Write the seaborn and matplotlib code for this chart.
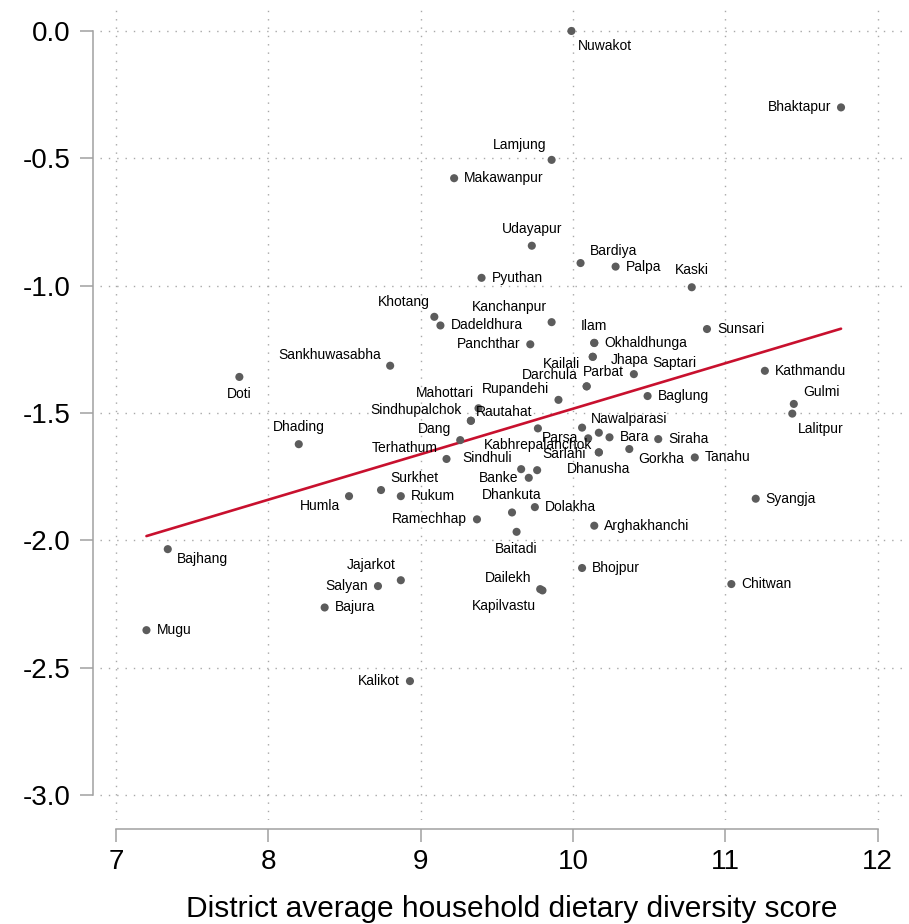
import numpy as np
import pandas as pd
import seaborn as sns
import matplotlib.pyplot as plt

sns.set_theme(style="white")
plt.rcParams['font.family'] = ['Liberation Sans', 'DejaVu Sans']
plt.rcParams['axes.unicode_minus'] = False

# district names ("" = point drawn without a label)
districts = [
    "Nuwakot", "Bhaktapur", "Lamjung", "Makawanpur", "Udayapur", "Bardiya",
    "Palpa", "Kaski", "Pyuthan", "Khotang", "Dadeldhura", "Kanchanpur",
    "Ilam", "Okhaldhunga", "Sunsari", "Panchthar", "Sankhuwasabha", "Kailali",
    "Jhapa", "Saptari", "Darchula", "Parbat", "Rupandehi", "Baglung",
    "Kathmandu", "Gulmi", "Lalitpur", "Doti", "Dhading", "Mahottari",
    "Rautahat", "Sindhupalchok", "Dang", "Terhathum", "Sindhuli",
    "Kabhrepalanchok", "Nawalparasi", "Parsa", "Bara", "", "Sarlahi",
    "Dhanusha", "Siraha", "Gorkha", "Tanahu", "Banke", "", "Surkhet",
    "Rukum", "Humla", "Syangja", "Dhankuta", "Dolakha", "Ramechhap",
    "Arghakhanchi", "Baitadi", "Bajhang", "Mugu", "Jajarkot", "Salyan",
    "Bajura", "Kalikot", "Dailekh", "Kapilvastu", "Bhojpur", "Chitwan",
]
dds_score = [
    9.99, 11.76, 9.86, 9.22, 9.73, 10.05,
    10.28, 10.78, 9.40, 9.09, 9.13, 9.86,
    10.14, 10.14, 10.88, 9.72, 8.80, 10.13,
    10.13, 10.40, 10.09, 10.09, 9.905, 10.49,
    11.26, 11.45, 11.44, 7.81, 8.20, 9.38,
    9.33, 9.33, 9.26, 9.17, 9.66,
    9.77, 10.06, 10.10, 10.24, 10.17, 10.17,
    10.17, 10.56, 10.37, 10.80, 9.71, 9.765, 8.74,
    8.87, 8.53, 11.20, 9.60, 9.75, 9.37,
    10.14, 9.63, 7.34, 7.20, 8.87, 8.72,
    8.37, 8.93, 9.785, 9.80, 10.06, 11.04,
]
outcome = [
    0.00, -0.30, -0.506, -0.578, -0.843, -0.911,
    -0.925, -1.006, -0.969, -1.122, -1.156, -1.143,
    -1.224, -1.225, -1.170, -1.230, -1.314, -1.279,
    -1.279, -1.347, -1.395, -1.395, -1.448, -1.433,
    -1.334, -1.464, -1.502, -1.358, -1.622, -1.481,
    -1.530, -1.530, -1.606, -1.680, -1.720,
    -1.560, -1.557, -1.599, -1.595, -1.577, -1.654,
    -1.654, -1.602, -1.641, -1.674, -1.754, -1.724, -1.802,
    -1.826, -1.826, -1.836, -1.890, -1.869, -1.917,
    -1.942, -1.966, -2.034, -2.352, -2.156, -2.179,
    -2.263, -2.552, -2.191, -2.196, -2.108, -2.171,
]

df = pd.DataFrame({"district": districts, "dds": dds_score, "y": outcome})

# label placement, clock style: (dx px, dy px downward, ha)
clock = {
    "3": (10, 0, "left"), "9": (-10, 0, "right"),
    "12": (0, -17, "center"), "6": (0, 17, "center"),
    "1": (9, -12, "left"), "2": (9, -9, "left"),
    "4": (9, 10, "left"), "5": (6, 15, "left"),
    "7": (-6, 16, "right"), "8": (-9, 10, "right"),
    "10": (-9, -11, "right"), "11": (-5, -15, "right"),
}
label_pos = {
    "Nuwakot": "5", "Bhaktapur": "9", "Lamjung": "11", "Udayapur": "12",
    "Bardiya": "1", "Kaski": "12", "Khotang": "11", "Kanchanpur": "11",
    "Ilam": "12", "Panchthar": "9", "Sankhuwasabha": "10", "Darchula": "10",
    "Rupandehi": "10", "Gulmi": "1", "Lalitpur": "5", "Doti": "6",
    "Dhading": "12", "Mahottari": "11", "Sindhupalchok": "10", "Dang": "10",
    "Terhathum": "10", "Sindhuli": "10", "Kabhrepalanchok": "6",
    "Nawalparasi": "2", "Parsa": "9", "Dhanusha": "6", "Gorkha": "4",
    "Banke": "9", "Surkhet": "1", "Humla": "8", "Dhankuta": "12",
    "Ramechhap": "9", "Baitadi": "6", "Bajhang": "4", "Jajarkot": "11",
    "Salyan": "9", "Kalikot": "9", "Dailekh": "10", "Kapilvastu": "7",
}
custom_pos = {
    "Kailali": (-13, 7, "right"), "Jhapa": (18, 3, "left"),
    "Saptari": (18, -11, "left"), "Parbat": (-4, -14, "left"),
    "Rautahat": (5, -9, "left"), "Sarlahi": (-13, 2, "right"),
}

fig = plt.figure(figsize=(9.09, 9.24), dpi=100)
ax = fig.add_axes([0.110, 0.1126, 0.8856, 0.8787])

sns.regplot(data=df, x="dds", y="y", scatter=False, ci=None, ax=ax,
            color="#c8102e", line_kws={"linewidth": 1.9, "zorder": 2})
sns.scatterplot(data=df, x="dds", y="y", ax=ax, color="#5c5c5c", s=34,
                edgecolor="none", zorder=3)

for name, xv, yv in zip(districts, dds_score, outcome):
    if not name:
        continue
    if name in custom_pos:
        dx, dy, ha = custom_pos[name]
    else:
        dx, dy, ha = clock[label_pos.get(name, "3")]
    ax.annotate(name, (xv, yv), xytext=(dx, -dy), textcoords="offset pixels",
                ha=ha, va="center", fontsize=10, color="#000000", zorder=4)

ax.set_xlim(6.895, 12.18)
ax.set_ylim(-3.097, 0.09)
ax.set_xticks([7, 8, 9, 10, 11, 12])
ax.set_yticks([-3.0, -2.5, -2.0, -1.5, -1.0, -0.5, 0.0])
ax.set_yticklabels(["-3.0", "-2.5", "-2.0", "-1.5", "-1.0", "-0.5", "0.0"])
ax.grid(True, linestyle=(0, (1, 5)), color="#a8a8a8", linewidth=1.0)

for side in ["top", "right"]:
    ax.spines[side].set_visible(False)
ax.spines["left"].set_bounds(-3, 0)
ax.spines["bottom"].set_bounds(7, 12)
ax.spines["left"].set_position(("outward", 5))
ax.spines["bottom"].set_position(("outward", 6.5))
for side in ["left", "bottom"]:
    ax.spines[side].set_color("#a0a0a0")
    ax.spines[side].set_linewidth(1.1)
ax.tick_params(axis="both", length=9.4, width=1.1, color="#a0a0a0",
               pad=6.5, labelsize=20, labelcolor="#000000",
               bottom=True, left=True)
ax.tick_params(axis="x", pad=5)

ax.set_xlabel("District average household dietary diversity score",
              fontsize=21.5, labelpad=14.5, color="#000000")
ax.xaxis.label.set_x(0.511)
ax.set_ylabel("")

plt.savefig("out.png", dpi=100)
